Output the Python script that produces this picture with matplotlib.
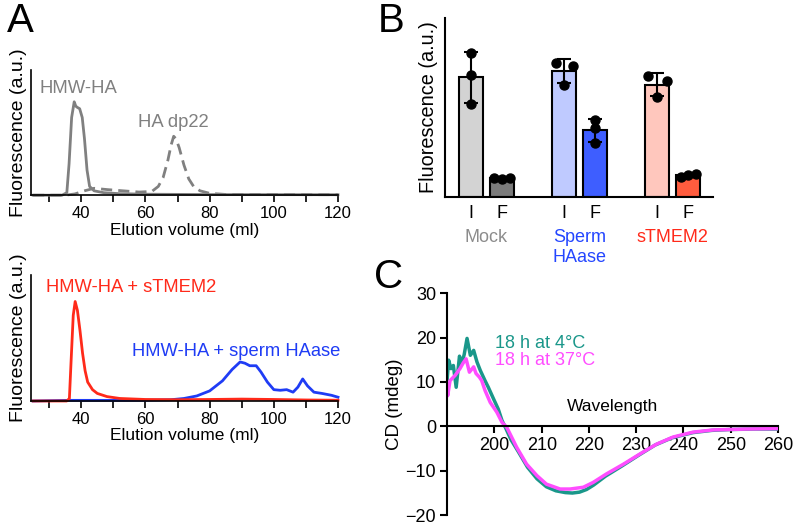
import numpy as np
import matplotlib
matplotlib.use('Agg')
import matplotlib.pyplot as plt

plt.rcParams['font.family'] = ['Liberation Sans', 'DejaVu Sans']

# --- Panel A: size-exclusion chromatograms (elution volume in ml, relative fluorescence)
hmw_x = [25, 34, 35.5, 36.2, 37, 37.8, 38.3, 38.8, 39.5, 40.3, 41, 41.8, 42.6, 44, 47, 52, 60, 80, 120]
hmw_y = [0.0, 0.0, 0.02, 0.25, 0.62, 0.745, 0.71, 0.70, 0.69, 0.62, 0.45, 0.2, 0.07, 0.035, 0.02, 0.012, 0.008, 0.005, 0.004]

dp22_x = [25, 35, 38, 41, 44, 48, 53, 58, 62, 64, 65.5, 67, 68, 68.8, 69.5, 70.5, 72, 73.5, 75, 77, 80, 85, 120]
dp22_y = [0.0, 0.0, 0.01, 0.035, 0.055, 0.045, 0.035, 0.025, 0.03, 0.07, 0.14, 0.28, 0.40, 0.47, 0.45, 0.38, 0.24, 0.13, 0.07, 0.035, 0.015, 0.006, 0.004]

tmem_x = [25, 35.5, 36.3, 36.8, 37.5, 38.1, 38.8, 39.6, 40.4, 41.2, 42, 43.5, 45, 48, 52, 60, 70, 80, 90, 100, 110, 120]
tmem_y = [0.0, 0.0, 0.02, 0.3, 0.68, 0.79, 0.72, 0.56, 0.38, 0.24, 0.15, 0.09, 0.06, 0.035, 0.02, 0.012, 0.01, 0.012, 0.015, 0.012, 0.008, 0.006]

haase_x = [25, 36, 50, 60, 68, 72, 76, 80, 84, 87, 89.5, 91, 92.5, 94.5, 96, 98, 100, 102, 104, 106, 107.5, 109, 110.5, 112.5, 115, 118, 120]
haase_y = [0.0, 0.005, 0.005, 0.006, 0.01, 0.02, 0.04, 0.08, 0.16, 0.25, 0.31, 0.30, 0.28, 0.28, 0.23, 0.15, 0.09, 0.085, 0.09, 0.07, 0.11, 0.175, 0.12, 0.07, 0.06, 0.045, 0.03]

# --- Panel B: fluorescence of input (I) and flow-through (F), three replicates each
bar_names = ['Mock I', 'Mock F', 'Sperm I', 'Sperm F', 'sTMEM2 I', 'sTMEM2 F']
bar_ticks = ['I', 'F', 'I', 'F', 'I', 'F']
reps = [
    [0.804, 0.682, 0.520],
    [0.103, 0.100, 0.106],
    [0.748, 0.734, 0.626],
    [0.430, 0.383, 0.303],
    [0.677, 0.649, 0.557],
    [0.112, 0.127, 0.120],
]
groups = ['Mock', 'Sperm\nHAase', 'sTMEM2']

# --- Panel C: CD spectra
cd4_x = [190, 190.3, 190.8, 191.3, 191.9, 192.6, 193.1, 193.6, 194.2, 194.9, 195.6, 196.3, 197,
         198, 198.7, 199.8, 200.8, 201.6, 202.3, 203.5, 205, 207, 209, 211, 213, 215, 216.5,
         218, 219.5, 221, 223.5, 227, 230.5, 234, 237.5, 242, 246, 250, 255, 260]
cd4_y = [10.7, 14.9, 13.0, 13.7, 8.8, 15.8, 14.1, 16.2, 19.8, 16.0, 17.1, 14.5, 12.6,
         10.3, 8.8, 6.2, 3.9, 1.3, -0.2, -3.0, -5.6, -9.2, -11.8, -13.6, -14.5, -14.9, -15.0,
         -14.8, -14.2, -13.2, -11.2, -8.9, -6.5, -4.2, -2.6, -1.4, -0.9, -0.7, -0.6, -0.6]
cd37_x = [190, 190.1, 190.6, 191.7, 192.7, 193.4, 194, 194.7, 195.6, 196.1, 196.8, 197.3,
          198, 199.1, 200.5, 201.6, 202.6, 204.7, 206.8, 209, 211, 213.9, 216, 218.8,
          220.9, 223.7, 227.3, 230.8, 234.3, 237.8, 242, 246.3, 253.3, 260]
cd37_y = [8.8, 6.9, 10.3, 11.5, 13.0, 14.3, 15.2, 12.2, 13.4, 11.9, 11.1, 10.3,
          8.1, 5.4, 3.2, 0.9, -0.2, -4.7, -8.5, -11.1, -13.0, -14.1, -14.1, -13.7,
          -12.6, -10.7, -8.5, -6.2, -4.0, -2.4, -1.3, -0.8, -0.6, -0.5]

fig = plt.figure(figsize=(8, 5.29), dpi=100)

FS = 12.5
grey = '#808080'
red = '#ff2a1a'
blue = '#1f3cf5'


def style_chrom(ax):
    ax.set_xlim(24.4, 120)
    ax.set_ylim(0, 1)
    for s in ['top', 'right']:
        ax.spines[s].set_visible(False)
    ax.spines['left'].set_linewidth(1.2)
    ax.spines['bottom'].set_linewidth(1.2)
    ax.set_xticks(np.arange(30, 121, 10))
    ax.set_xticklabels(['' if v % 20 else str(v) for v in range(30, 121, 10)])
    ax.set_yticks([])
    ax.tick_params(axis='x', length=5, width=1.2, labelsize=12, pad=3)
    ax.set_xlabel('Elution volume (ml)', fontsize=FS, labelpad=1)
    ax.set_ylabel('Fluorescence (a.u.)', fontsize=14, labelpad=3)


# A top
ax1 = fig.add_axes([0.039, 0.631, 0.3835, 0.237])
style_chrom(ax1)
ax1.plot(hmw_x, hmw_y, color=grey, lw=2, clip_on=False)
ax1.plot(dp22_x, dp22_y, color=grey, lw=2, ls=(0, (4, 2.2)), clip_on=False)
ax1.text(26.9, 0.85, 'HMW-HA', color=grey, fontsize=13.3, va='center')
ax1.text(57.7, 0.58, 'HA dp22', color=grey, fontsize=13.3, va='center')

# A bottom
ax2 = fig.add_axes([0.039, 0.242, 0.3835, 0.238])
style_chrom(ax2)
ax2.plot(haase_x, haase_y, color=blue, lw=2, clip_on=False)
ax2.plot(tmem_x, tmem_y, color=red, lw=2, clip_on=False)
ax2.text(29, 0.9, 'HMW-HA + sTMEM2', color=red, fontsize=13.2, va='center')
ax2.text(55.9, 0.39, 'HMW-HA + sperm HAase', color=blue, fontsize=13.2, va='center')

# B
ax3 = fig.add_axes([0.556, 0.628, 0.335, 0.338])
xpos = [0, 1, 3, 4, 6, 7]
face = ['#d3d3d3', '#7b7b7b', '#bfcaff', '#3e5eff', '#ffc7bd', '#ff5c3e']
jitter = [[0, 0, 0], [-0.25, 0, 0.25], [-0.27, 0.28, 0], [0, 0, 0], [-0.3, 0.3, 0], [-0.25, 0.25, 0]]
means = [np.mean(r) for r in reps]
sds = [np.std(r, ddof=1) for r in reps]
ax3.bar(xpos, means, width=0.77, color=face, edgecolor='black', linewidth=1.5, zorder=2)
ax3.errorbar(xpos, means, yerr=sds, fmt='none', ecolor='black', elinewidth=1.5,
             capsize=5, capthick=1.5, zorder=3)
for x, r, j in zip(xpos, reps, jitter):
    ax3.plot(np.array(j) + x, r, 'o', color='black', ms=6.5, zorder=4, clip_on=False)
ax3.set_xlim(-0.84, 7.79)
ax3.set_ylim(0, 1)
for s in ['top', 'right']:
    ax3.spines[s].set_visible(False)
ax3.spines['left'].set_linewidth(1.5)
ax3.spines['bottom'].set_linewidth(1.5)
ax3.set_yticks([])
ax3.set_xticks(xpos)
ax3.set_xticklabels(bar_ticks, fontsize=13)
ax3.tick_params(axis='x', length=0, pad=6)
ax3.set_ylabel('Fluorescence (a.u.)', fontsize=14.3, labelpad=5)
gcol = ['#8c8c8c', '#2446ff', '#ff2a1a']
for i, (g, c) in enumerate(zip(groups, gcol)):
    ax3.text(3 * i + 0.5, -0.18, g, color=c, fontsize=13, ha='center', va='top',
             linespacing=1.2, transform=ax3.transData)

# C
ax4 = fig.add_axes([0.559, 0.026, 0.4135, 0.42])
ax4.plot(cd4_x, cd4_y, color='#1a978a', lw=2.5)
ax4.plot(cd37_x, cd37_y, color='#ff4dff', lw=2.5)
ax4.set_xlim(190, 260)
ax4.set_ylim(-20, 30)
for s in ['top', 'right']:
    ax4.spines[s].set_visible(False)
ax4.spines['bottom'].set_position(('data', 0))
ax4.spines['left'].set_linewidth(1.5)
ax4.spines['bottom'].set_linewidth(1.5)
ax4.set_xticks(np.arange(200, 261, 10))
ax4.set_yticks(np.arange(-20, 31, 10))
ax4.tick_params(length=5, width=1.5, labelsize=13, pad=3)
ax4.set_ylabel('CD (mdeg)', fontsize=13.5, labelpad=2)
ax4.text(224.9, 4.5, 'Wavelength', fontsize=FS, ha='center', va='center')
ax4.text(200.1, 18.7, '18 h at 4°C', color='#1a978a', fontsize=13, va='center')
ax4.text(200.1, 14.9, '18 h at 37°C', color='#ff4dff', fontsize=13, va='center')

fig.text(0.009, 0.961, 'A', fontsize=29, va='center')
fig.text(0.472, 0.960, 'B', fontsize=29, va='center')
fig.text(0.467, 0.477, 'C', fontsize=29, va='center')

plt.savefig('out.png', dpi=100)
